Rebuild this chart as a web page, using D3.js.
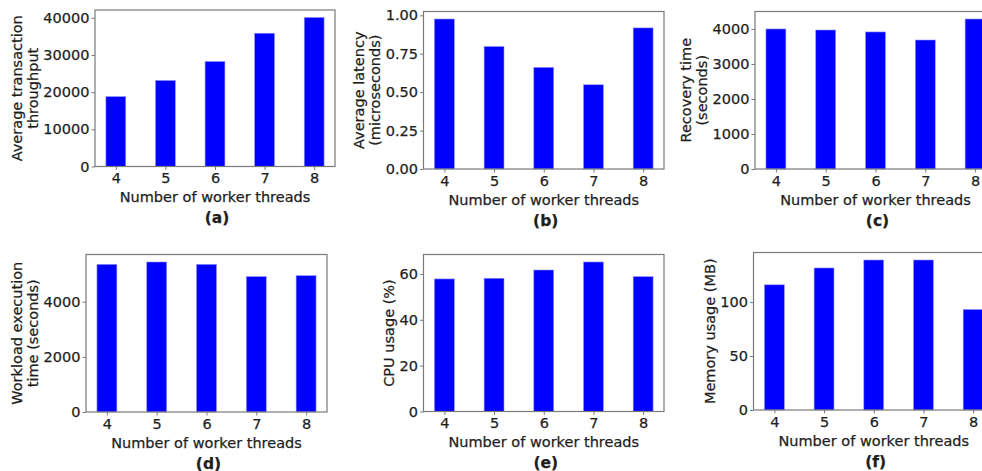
<!DOCTYPE html>
<html>
<head>
<meta charset="utf-8">
<script src="https://cdn.jsdelivr.net/npm/d3@7"></script>
<style>
  body { margin: 0; background: #fff; }
  svg { display: block; }
  text { font-family: "DejaVu Sans", sans-serif; fill: #1e1e1e; stroke: #1e1e1e; stroke-width: 0.25px; }
</style>
</head>
<body>
<div id="chart"></div>
<script>
// data
const threads = [4, 5, 6, 7, 8];

const throughput = [18800, 23150, 28250, 35850, 40100];
const latency = [0.976, 0.797, 0.661, 0.548, 0.918];
const recovery = [4000, 3970, 3915, 3685, 4285];
const workload = [5355, 5440, 5355, 4910, 4945];
const cpu = [57.8, 58.1, 61.7, 65.2, 58.8];
const memory = [116, 131.6, 139, 139, 93.1];

const ticksA = [0, 10000, 20000, 30000, 40000];
const ticksB = [0, 0.25, 0.5, 0.75, 1.0];
const ticksC = [0, 1000, 2000, 3000, 4000];
const ticksD = [0, 2000, 4000];
const ticksE = [0, 20, 40, 60];
const ticksF = [0, 50, 100];

const xLabel = "Number of worker threads";

const panels = [
  { values: throughput, ticks: ticksA, fmt: d3.format("d"), ylabel: ["Average transaction", "throughput"], tag: "(a)",
    left: 95, top: 10, right: 335, bottom: 166.5 },
  { values: latency, ticks: ticksB, fmt: d3.format(".2f"), ylabel: ["Average latency", "(microseconds)"], tag: "(b)",
    left: 423.5, top: 11.5, right: 664, bottom: 169 },
  { values: recovery, ticks: ticksC, fmt: d3.format("d"), ylabel: ["Recovery time", "(seconds)"], tag: "(c)",
    left: 755, top: 11.5, right: 996, bottom: 169 },
  { values: workload, ticks: ticksD, fmt: d3.format("d"), ylabel: ["Workload execution", "time (seconds)"], tag: "(d)",
    left: 86, top: 254.5, right: 327, bottom: 412 },
  { values: cpu, ticks: ticksE, fmt: d3.format("d"), ylabel: ["CPU usage (%)"], tag: "(e)",
    left: 423.5, top: 254.5, right: 664, bottom: 411.5 },
  { values: memory, ticks: ticksF, fmt: d3.format("d"), ylabel: ["Memory usage (MB)"], tag: "(f)",
    left: 753.5, top: 252.5, right: 994, bottom: 410 }
];

const width = 982, height = 471;
const fontSize = 14.5;
const barWidth = 0.4;

const svg = d3.select("#chart")
  .append("svg")
  .attr("width", width)
  .attr("height", height);

svg.append("rect").attr("width", width).attr("height", height).attr("fill", "#fff");

panels.forEach((p) => {
  // matplotlib style autoscale: 5% margins on x, 5% headroom on y
  const span = (threads[threads.length - 1] + barWidth / 2) - (threads[0] - barWidth / 2);
  const x = d3.scaleLinear()
    .domain([threads[0] - barWidth / 2 - span * 0.05, threads[threads.length - 1] + barWidth / 2 + span * 0.05])
    .range([p.left, p.right]);
  const y = d3.scaleLinear()
    .domain([0, d3.max(p.values) * 1.05])
    .range([p.bottom, p.top]);

  const g = svg.append("g");

  g.selectAll("rect.bar")
    .data(p.values)
    .enter()
    .append("rect")
    .attr("class", "bar")
    .attr("x", (d, i) => x(threads[i] - barWidth / 2))
    .attr("width", (d, i) => x(threads[i] + barWidth / 2) - x(threads[i] - barWidth / 2))
    .attr("y", (d) => y(d))
    .attr("height", (d) => p.bottom - y(d))
    .attr("fill", "#0000ff")
    .attr("stroke", "#8f8fff")
    .attr("stroke-width", 0.6);

  // frame
  g.append("rect")
    .attr("x", p.left)
    .attr("y", p.top)
    .attr("width", p.right - p.left)
    .attr("height", p.bottom - p.top)
    .attr("fill", "none")
    .attr("stroke", "#7a7a7a")
    .attr("stroke-width", 1.2);

  // y axis
  const yAxis = d3.axisLeft(y)
    .tickValues(p.ticks)
    .tickFormat(p.fmt)
    .tickSize(3.5)
    .tickPadding(2);
  const ya = g.append("g")
    .attr("transform", `translate(${p.left},0)`)
    .call(yAxis);
  ya.select(".domain").remove();
  ya.selectAll(".tick line").attr("stroke", "#7a7a7a");
  ya.selectAll(".tick text")
    .style("font-size", fontSize + "px")
    .style("font-family", "'DejaVu Sans', sans-serif")
    .attr("fill", "#1e1e1e");

  // x axis
  const xAxis = d3.axisBottom(x)
    .tickValues(threads)
    .tickFormat(d3.format("d"))
    .tickSize(3.5)
    .tickPadding(3);
  const xa = g.append("g")
    .attr("transform", `translate(0,${p.bottom})`)
    .call(xAxis);
  xa.select(".domain").remove();
  xa.selectAll(".tick line").attr("stroke", "#7a7a7a");
  xa.selectAll(".tick text")
    .style("font-size", fontSize + "px")
    .style("font-family", "'DejaVu Sans', sans-serif")
    .attr("fill", "#1e1e1e");

  // y label sits just left of the widest tick label
  const tickLeft = d3.min(ya.selectAll(".tick text").nodes(), (n) => n.getBBox().x) + p.left;
  const midY = (p.top + p.bottom) / 2;
  const lineGap = 16;
  const n = p.ylabel.length;
  const lab = g.append("text")
    .attr("transform", `translate(${tickLeft - 5.5},${midY}) rotate(-90)`)
    .attr("text-anchor", "middle")
    .style("font-size", fontSize + "px");
  p.ylabel.forEach((line, i) => {
    lab.append("tspan")
      .attr("x", 0)
      .attr("y", -(n - 1 - i) * lineGap)
      .text(line);
  });

  const cx = (p.left + p.right) / 2;
  g.append("text")
    .attr("x", cx)
    .attr("y", p.bottom + 35.5)
    .attr("text-anchor", "middle")
    .style("font-size", fontSize + "px")
    .text(xLabel);

  g.append("text")
    .attr("x", cx + 2)
    .attr("y", p.bottom + 56.5)
    .attr("text-anchor", "middle")
    .style("font-size", "15.5px")
    .style("font-weight", "bold")
    .text(p.tag);
});
</script>
</body>
</html>
